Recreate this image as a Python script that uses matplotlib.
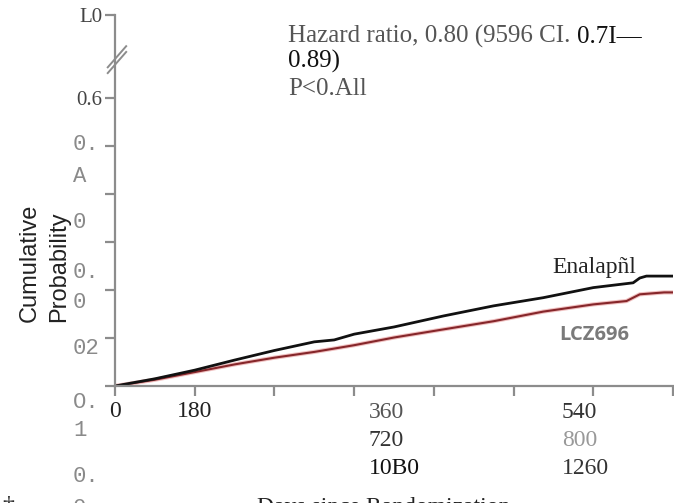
import numpy as np
import matplotlib.pyplot as plt
import matplotlib.transforms as mtransforms

# curve values (days, cumulative probability)
days_enalapril = [0, 90, 180, 270, 360, 450, 495, 540, 630, 742, 855, 967, 1080, 1170, 1185, 1200, 1260]
prob_enalapril = [0, 0.015, 0.033, 0.054, 0.074, 0.092, 0.096, 0.108, 0.123, 0.146, 0.167, 0.184,
                  0.205, 0.215, 0.225, 0.229, 0.229]
days_lcz = [0, 90, 180, 270, 360, 450, 540, 630, 742, 855, 967, 1080, 1155, 1185, 1240, 1260]
prob_lcz = [0, 0.013, 0.029, 0.045, 0.059, 0.071, 0.085, 0.101, 0.118, 0.135, 0.155, 0.170,
            0.177, 0.191, 0.195, 0.195]

# axis: linear up to 0.6, then broken, top tick stands for 1.0
yticks = [0, 0.1, 0.2, 0.3, 0.4, 0.5, 0.6]
ytick_labels = ['', '', '', '', '', '', '0.6']
y_top = 0.773          # where the "1.0" tick sits on the broken axis
y_break = 0.68
xticks = [0, 180, 360, 540, 720, 900, 1080, 1260]
xtick_labels = ['0', '180', '', '', '', '', '', '']

# garbled labels as they appear in the source image
left_labels = [('0.', 145), ('A', 177), ('0', 222), ('0.', 273), ('0', 303), ('02', 348),
               ('O.', 402), ('1', 430), ('0.', 477), ('0', 508)]
bottom_labels = [('360', 369, 413, '#555555'), ('720', 369, 441, '#333333'), ('10B0', 369, 468, '#111111'),
                 ('540', 562, 413, '#333333'), ('800', 562, 441, '#999999'), ('1260', 562, 468, '#333333')]

W, H = 674, 503


def px(x, y):
    return x / W, 1 - y / H


fig = plt.figure(figsize=(W / 100, H / 100), dpi=100)
ax = fig.add_axes([115 / W, 1 - 386 / H, (673 - 115) / W, (386 - 15) / H])

ax.plot(days_lcz, prob_lcz, color='#f0c0c0', linewidth=3.0, solid_capstyle='butt')
ax.plot(days_lcz, prob_lcz, color='#86262a', linewidth=1.5)
ax.plot(days_enalapril, prob_enalapril, color='#111111', linewidth=2.0)

ax.set_xlim(0, 1260)
ax.set_ylim(0, y_top)
ax.set_xticks(xticks)
ax.set_xticklabels(xtick_labels, fontfamily='Liberation Serif', fontsize=17, color='#222222')
ax.set_yticks(yticks + [y_top])
ax.set_yticklabels(ytick_labels + ['L0'], fontfamily='Liberation Serif', fontsize=15, color='#444444')

for s in ['top', 'right']:
    ax.spines[s].set_visible(False)
for s in ['left', 'bottom']:
    ax.spines[s].set_color('#8c8c8c')
    ax.spines[s].set_linewidth(1.6)
ax.tick_params(axis='y', length=7.5, width=1.6, color='#8c8c8c', pad=1.5)
ax.tick_params(axis='x', length=7.5, width=1.6, color='#8c8c8c', pad=3)

# break marks on the y axis
blend = mtransforms.blended_transform_factory(ax.transAxes, ax.transData)
for dy in (-0.006, 0.006):
    ax.plot([-0.013, 0.02], [y_break - 0.022 + dy, y_break + 0.022 + dy], color='#8c8c8c',
            linewidth=1.4, transform=blend, clip_on=False)

# left garbled labels
for txt, y in left_labels:
    fig.text(*px(73, y), txt, ha='left', va='center', fontfamily='Liberation Mono',
             fontsize=16, color='#8a8a8a')

# bottom garbled labels
for txt, x, y, c in bottom_labels:
    fig.text(*px(x, y), txt, ha='left', va='center', fontfamily='Liberation Serif',
             fontsize=17, color=c)

# y label
fig.text(*px(30, 322), 'Cumulative', rotation=90, ha='center', va='bottom',
         fontfamily='Liberation Sans', fontsize=17, color='#222222')
fig.text(*px(59, 322), 'Probability', rotation=90, ha='center', va='bottom',
         fontfamily='Liberation Sans', fontsize=17, color='#222222')

# x label, cut at the bottom edge
fig.text(*px(257, 497), 'Days since Randomization', ha='left', va='top',
         fontfamily='Liberation Serif', fontsize=17, color='#222222')
fig.text(*px(2, 496), '\u2020', ha='left', va='top', fontfamily='Liberation Serif',
         fontsize=17, color='#222222')

# hazard ratio annotation
t1 = fig.text(*px(288, 43), 'Hazard ratio, 0.80 (9596 CI. ', ha='left', va='baseline',
              fontfamily='Liberation Serif', fontsize=18, color='#555555')
fig.text(*px(288, 68), '0.89)', ha='left', va='baseline',
         fontfamily='Liberation Serif', fontsize=18, color='#111111')
fig.text(*px(288, 95), 'P<0.All', ha='left', va='baseline',
         fontfamily='Liberation Serif', fontsize=18, color='#555555')
ax.annotate('0.7I\u2014', xy=(1, 0), xycoords=t1, ha='left', va='bottom',
            fontfamily='Liberation Serif', fontsize=18, color='#111111')

# curve labels
fig.text(*px(552, 273), 'Enalapñl', ha='left', va='baseline',
         fontfamily='Liberation Serif', fontsize=17, color='#222222')
fig.text(*px(594, 335), 'LCZ696', ha='center', va='center',
         fontfamily='Open Sans', fontweight='bold', fontsize=14.5, color='#7a7a7a')

fig.savefig('out.png', dpi=100)
